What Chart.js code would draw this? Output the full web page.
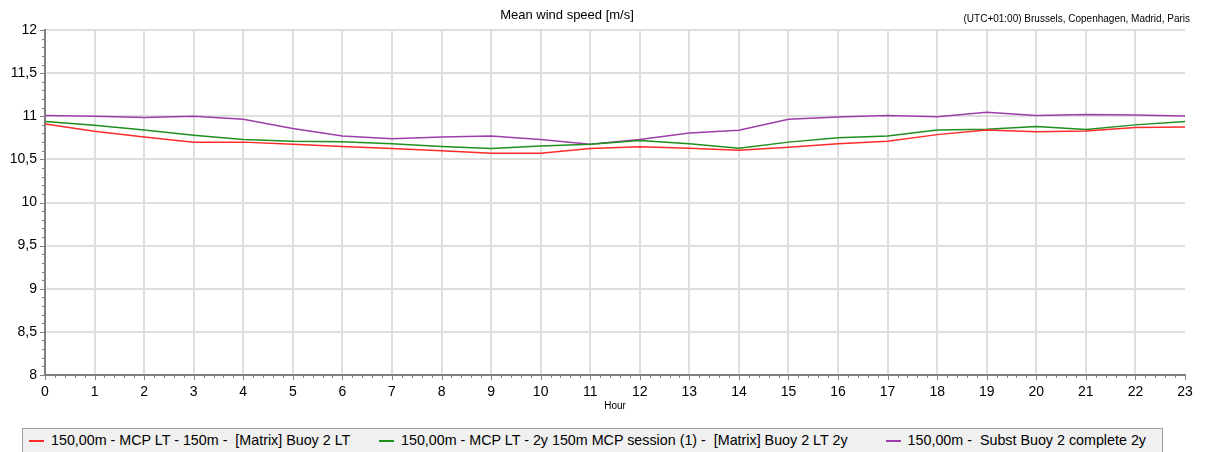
<!DOCTYPE html>
<html>
<head>
<meta charset="utf-8">
<title>Mean wind speed</title>
<script src="https://cdn.jsdelivr.net/npm/chart.js@4.4.1/dist/chart.umd.min.js"></script>
<style>
	body {
		margin: 0;
		background: #fff;
		font-family: 'Liberation Sans', Arial, sans-serif;
	}
	#wrap {
		position: relative;
		width: 1205px;
		height: 452px;
		overflow: hidden;
	}
	#title {
		position: absolute;
		left: 567px;
		top: 7px;
		transform: translateX(-50%);
		font-size: 13px;
		line-height: 16px;
		color: #000;
		white-space: nowrap;
	}
	#zone {
		position: absolute;
		right: 15px;
		top: 13px;
		font-size: 10px;
		line-height: 12px;
		color: #000;
		white-space: nowrap;
	}
	#chart {
		position: absolute;
		left: 0;
		top: 0;
	}
	#legend {
		position: absolute;
		left: 22px;
		top: 428px;
		width: 1141px;
		height: 30px;
		background: #f0f0f0;
		border: 1px solid #a0a0a0;
		display: flex;
		align-items: flex-start;
		padding-top: 3px;
		padding-left: 6px;
		box-sizing: border-box;
		font-size: 14.3px;
		line-height: 17px;
		color: #000;
		white-space: pre;
	}
	.item {
		display: flex;
		align-items: center;
		flex: none;
	}
	.swatch {
		width: 15px;
		height: 2px;
		margin-right: 7px;
	}
</style>
</head>
<body>
<div id="wrap">
	<canvas id="chart" width="1205" height="425"></canvas>
	<div id="title">Mean wind speed [m/s]</div>
	<div id="zone">(UTC+01:00) Brussels, Copenhagen, Madrid, Paris</div>
	<div id="legend"></div>
</div>
<script>
// setup block
const hours = [0, 1, 2, 3, 4, 5, 6, 7, 8, 9, 10, 11, 12, 13, 14, 15, 16, 17, 18, 19, 20, 21, 22, 23];

const mcpLongTerm = [10.91, 10.825, 10.76, 10.70, 10.70, 10.675, 10.65, 10.625, 10.60, 10.57, 10.57, 10.625,
	10.645, 10.63, 10.605, 10.64, 10.68, 10.71, 10.787, 10.84, 10.82, 10.83, 10.87, 10.875];

const mcpTwoYear = [10.94, 10.895, 10.84, 10.78, 10.73, 10.71, 10.705, 10.68, 10.65, 10.625, 10.655, 10.675,
	10.72, 10.68, 10.63, 10.70, 10.75, 10.77, 10.84, 10.85, 10.88, 10.845, 10.90, 10.94];

const substBuoy = [11.01, 11.00, 10.985, 11.00, 10.965, 10.857, 10.77, 10.74, 10.76, 10.77, 10.73, 10.675,
	10.73, 10.806, 10.837, 10.965, 10.99, 11.01, 10.995, 11.047, 11.01, 11.02, 11.015, 11.003];

const seriesNames = [
	'150,00m - MCP LT - 150m -  [Matrix] Buoy 2 LT',
	'150,00m - MCP LT - 2y 150m MCP session (1) -  [Matrix] Buoy 2 LT 2y',
	'150,00m -  Subst Buoy 2 complete 2y',
];
const seriesColors = ['#ff2a2a', '#1f8f1f', '#9c3ea8'];
// column widths of the legend entries
const legendWidths = [350, 507, 260];

const yTicks = [8, 8.5, 9, 9.5, 10, 10.5, 11, 11.5, 12];

const data = {
	labels: hours,
	datasets: [mcpLongTerm, mcpTwoYear, substBuoy].map((values, i) => ({
		label: seriesNames[i],
		data: values,
		borderColor: seriesColors[i],
		backgroundColor: seriesColors[i],
		borderWidth: 1.5,
		pointRadius: 0,
		tension: 0,
	})),
};

const axisColor = '#808080';
const gridColor = '#dedede';

// small tick marks along both axes (major every unit / half unit, minor in between)
const axisTicks = {
	id: 'axisTicks',
	afterDraw(chart) {
		const ctx = chart.ctx;
		const x = chart.scales.x;
		const y = chart.scales.y;
		ctx.save();
		ctx.strokeStyle = axisColor;
		ctx.lineWidth = 1;
		ctx.beginPath();
		for (let i = 0; i <= 23 * 5; i++) {
			const px = Math.round(x.getPixelForValue(i / 5)) + 0.5;
			const len = i % 5 === 0 ? 5 : 3;
			ctx.moveTo(px, y.bottom);
			ctx.lineTo(px, y.bottom + len);
		}
		for (let i = 0; i <= 40; i++) {
			const py = Math.round(y.getPixelForValue(8 + i / 10)) + 0.5;
			const len = i % 5 === 0 ? 5 : 3;
			ctx.moveTo(x.left, py);
			ctx.lineTo(x.left - len, py);
		}
		ctx.stroke();
		ctx.restore();
	},
};

// config block
const config = {
	type: 'line',
	data,
	options: {
		responsive: false,
		animation: false,
		devicePixelRatio: 1,
		layout: {
			padding: { top: 30, right: 20, left: 0, bottom: 0 },
		},
		plugins: {
			legend: { display: false },
			tooltip: { enabled: false },
		},
		scales: {
			x: {
				type: 'linear',
				min: 0,
				max: 23,
				offset: false,
				afterFit: (scale) => {
					scale.height = 50;
				},
				ticks: {
					stepSize: 1,
					padding: 9,
					color: '#000',
					font: { family: 'Liberation Sans', size: 14 },
				},
				grid: {
					drawTicks: false,
					lineWidth: 2,
					color: (ctx) => (ctx.tick && (ctx.tick.value === 0 || ctx.tick.value === 23) ? 'rgba(0,0,0,0)' : gridColor),
				},
				border: { color: axisColor, width: 2 },
				title: {
					display: true,
					text: 'Hour',
					color: '#000',
					font: { family: 'Liberation Sans', size: 10 },
					padding: { top: 0, bottom: 13 },
				},
			},
			y: {
				min: 8,
				max: 12,
				afterFit: (scale) => {
					scale.width = 45;
				},
				afterBuildTicks: (scale) => {
					scale.ticks = yTicks.map((v) => ({ value: v }));
				},
				ticks: {
					padding: 8,
					color: '#000',
					font: { family: 'Liberation Sans', size: 14 },
					callback: (value) => String(value).replace('.', ','),
				},
				grid: {
					drawTicks: false,
					lineWidth: 2,
					color: (ctx) => (ctx.tick && ctx.tick.value === 8 ? 'rgba(0,0,0,0)' : gridColor),
				},
				border: { color: axisColor, width: 2 },
			},
		},
	},
	plugins: [axisTicks],
};

// render / init block
const myChart = new Chart(document.getElementById('chart'), config);

// legend box under the plot
const legendBox = document.getElementById('legend');
myChart.data.datasets.forEach((ds, i) => {
	const item = document.createElement('div');
	item.className = 'item';
	item.style.width = legendWidths[i] + 'px';
	const swatch = document.createElement('span');
	swatch.className = 'swatch';
	swatch.style.background = ds.borderColor;
	const text = document.createElement('span');
	text.textContent = ds.label;
	item.appendChild(swatch);
	item.appendChild(text);
	legendBox.appendChild(item);
});
</script>
</body>
</html>
